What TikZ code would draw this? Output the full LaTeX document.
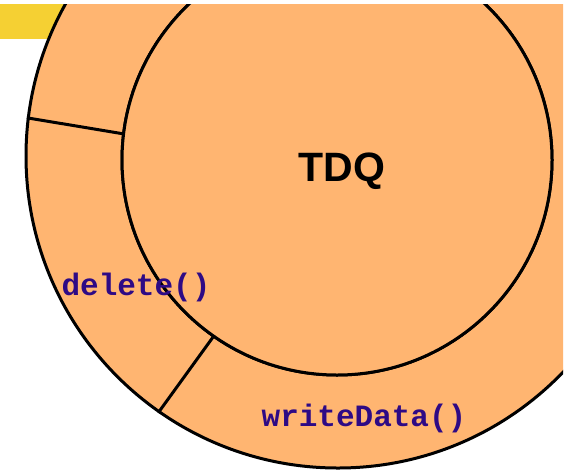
\documentclass[tikz,border=0pt]{standalone}
\usepackage{fontspec}
\setmainfont{Liberation Sans}
\newfontfamily\codefont{Liberation Mono}
\definecolor{ringfill}{HTML}{FFB571}
\definecolor{bar}{HTML}{F5D033}
\definecolor{codecol}{HTML}{2E0A85}
\tikzset{
  disc/.style={circle, draw=black, line width=3pt, fill=ringfill, inner sep=0pt},
  divider/.style={draw=black, line width=3pt},
  codelabel/.style={font=\codefont\bfseries\fontsize{31}{31}\selectfont, text=codecol, inner sep=0pt, anchor=base},
  titlelabel/.style={font=\bfseries\fontsize{41}{41}\selectfont, inner sep=0pt, anchor=base}
}
\begin{document}
\begin{tikzpicture}[x=1pt,y=-1pt]
\useasboundingbox[fill=white] (0,0) rectangle (569,472);
\begin{scope}
\clip (0,4) rectangle (563,472);
\fill[bar] (0,4) rectangle (80,39);
\node[disc, minimum size=624pt] (outer) at (338,156) {};
\node[disc, minimum size=430pt] (innerbase) at (337,160) {};
\draw[divider] (outer.173) -- (innerbase.173);
\draw[divider] (outer.235.5) -- (innerbase.235.5);
\node[disc, minimum size=430pt] (inner) at (337,160) {};
\node[titlelabel] (tdq) at (342,181) {TDQ};
\node[codelabel] (del) at (136,295) {delete()};
\node[codelabel] (wd) at (364,426) {writeData()};
\end{scope}
\end{tikzpicture}
\end{document}
